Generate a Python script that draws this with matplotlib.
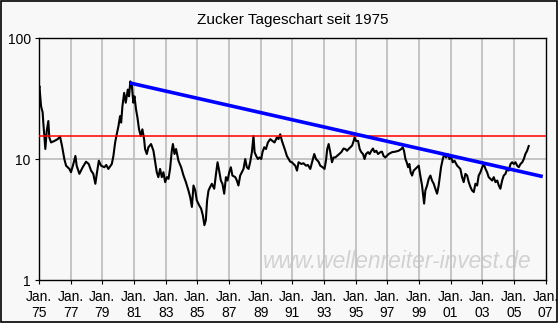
import matplotlib
matplotlib.use("Agg")
import matplotlib.pyplot as plt
from matplotlib.patches import Rectangle

plt.rcParams['font.family'] = ['Liberation Sans', 'DejaVu Sans']

# Sugar daily closes (decimal year, US cents/lb)
years = [
    1975.00, 1975.03, 1975.06, 1975.13, 1975.23, 1975.27, 1975.34, 1975.40, 1975.49, 1975.59,
    1975.65, 1975.76, 1975.97, 1976.18, 1976.33, 1976.45, 1976.60, 1976.71, 1976.92, 1977.02,
    1977.17, 1977.30, 1977.38, 1977.55, 1977.76, 1977.97, 1978.14, 1978.29, 1978.43, 1978.56,
    1978.65, 1978.78, 1978.92, 1979.13, 1979.25, 1979.38, 1979.60, 1979.70, 1979.81, 1979.91,
    1980.02, 1980.12, 1980.19, 1980.27, 1980.38, 1980.48, 1980.61, 1980.69, 1980.77, 1980.86,
    1980.96, 1981.03, 1981.13, 1981.22, 1981.32, 1981.43, 1981.53, 1981.64, 1981.70, 1981.81,
    1981.91, 1982.08, 1982.23, 1982.34, 1982.44, 1982.54, 1982.65, 1982.76, 1982.86, 1982.97,
    1983.08, 1983.18, 1983.28, 1983.39, 1983.46, 1983.56, 1983.66, 1983.81, 1983.98, 1984.13,
    1984.28, 1984.44, 1984.55, 1984.66, 1984.76, 1984.87, 1984.97, 1985.12, 1985.24, 1985.35,
    1985.45, 1985.54, 1985.62, 1985.71, 1985.81, 1985.92, 1986.07, 1986.17, 1986.28, 1986.38,
    1986.49, 1986.59, 1986.70, 1986.81, 1986.91, 1987.02, 1987.12, 1987.22, 1987.40, 1987.50,
    1987.60, 1987.71, 1987.82, 1987.92, 1988.03, 1988.13, 1988.24, 1988.34, 1988.45, 1988.55,
    1988.62, 1988.72, 1988.83, 1988.93, 1989.04, 1989.12, 1989.23, 1989.34, 1989.46, 1989.61,
    1989.75, 1989.88, 1990.03, 1990.13, 1990.24, 1990.35, 1990.45, 1990.56, 1990.66, 1990.77,
    1990.87, 1990.98, 1991.08, 1991.19, 1991.30, 1991.40, 1991.57, 1991.71, 1991.87, 1991.99,
    1992.14, 1992.25, 1992.39, 1992.50, 1992.66, 1992.77, 1992.92, 1993.04, 1993.13, 1993.21,
    1993.30, 1993.40, 1993.51, 1993.61, 1993.72, 1993.83, 1993.97, 1994.10, 1994.24, 1994.35,
    1994.46, 1994.56, 1994.67, 1994.78, 1994.88, 1994.94, 1995.03, 1995.16, 1995.26, 1995.36,
    1995.47, 1995.57, 1995.66, 1995.79, 1995.89, 1996.00, 1996.10, 1996.20, 1996.31, 1996.42,
    1996.57, 1996.67, 1996.77, 1996.88, 1997.09, 1997.31, 1997.51, 1997.72, 1997.89, 1997.98,
    1998.06, 1998.15, 1998.23, 1998.32, 1998.40, 1998.48, 1998.57, 1998.67, 1998.78, 1998.89,
    1998.99, 1999.09, 1999.20, 1999.27, 1999.33, 1999.41, 1999.52, 1999.62, 1999.73, 1999.83,
    1999.94, 2000.04, 2000.15, 2000.25, 2000.32, 2000.40, 2000.51, 2000.61, 2000.72, 2000.82,
    2000.93, 2001.04, 2001.14, 2001.25, 2001.42, 2001.52, 2001.62, 2001.73, 2001.83, 2001.94,
    2002.05, 2002.15, 2002.26, 2002.36, 2002.47, 2002.57, 2002.68, 2002.78, 2002.89, 2003.00,
    2003.10, 2003.21, 2003.31, 2003.41, 2003.52, 2003.63, 2003.73, 2003.84, 2003.95, 2004.05,
    2004.15, 2004.26, 2004.36, 2004.47, 2004.58, 2004.68, 2004.79, 2004.89, 2005.00, 2005.10,
    2005.21, 2005.31, 2005.42, 2005.53, 2005.63, 2005.73, 2005.84, 2005.94,
]
prices = [
    38.7, 40.0, 35.2, 27.3, 24.3, 20.1, 15.5, 12.1, 17.1, 20.6,
    15.1, 13.7, 14.1, 14.6, 15.3, 12.9, 10.0, 8.81, 8.28, 7.78,
    9.10, 10.6, 8.81, 7.54, 8.55, 9.50, 9.10, 8.02, 7.54, 6.24,
    7.54, 9.68, 8.81, 8.55, 8.93, 8.28, 9.10, 10.6, 13.7, 16.0,
    18.7, 22.6, 20.0, 27.3, 35.2, 29.2, 37.5, 33.0, 43.8, 41.2,
    29.2, 33.0, 25.7, 22.0, 17.6, 15.5, 17.6, 14.6, 12.1, 11.0,
    12.5, 13.3, 11.7, 9.40, 7.78, 7.08, 8.28, 7.08, 7.78, 6.44,
    7.08, 6.86, 8.28, 11.7, 13.3, 11.0, 12.1, 9.68, 8.55, 7.30,
    6.44, 5.50, 4.85, 4.02, 6.04, 5.50, 4.55, 4.14, 3.89, 3.43,
    2.84, 3.12, 4.55, 5.50, 5.86, 6.24, 5.68, 7.30, 9.40, 8.02,
    6.64, 6.24, 5.17, 7.08, 6.64, 7.78, 8.55, 7.30, 7.08, 6.64,
    6.04, 7.30, 7.78, 8.28, 10.0, 8.55, 8.28, 9.40, 11.4, 15.5,
    11.4, 10.6, 10.0, 10.3, 10.0, 11.4, 12.5, 12.1, 13.7, 14.6,
    14.1, 13.7, 15.1, 14.6, 16.0, 14.1, 12.9, 11.7, 10.6, 10.0,
    9.50, 9.40, 9.10, 8.81, 8.02, 9.40, 9.10, 9.22, 8.81, 8.93,
    8.28, 9.40, 11.0, 10.0, 9.50, 8.81, 8.55, 8.28, 9.68, 12.1,
    13.3, 11.4, 9.40, 10.3, 10.3, 10.6, 11.0, 11.4, 12.2, 12.1,
    11.7, 12.1, 12.5, 12.9, 14.1, 15.1, 14.1, 14.1, 12.1, 11.4,
    11.0, 10.0, 11.0, 11.4, 11.0, 11.7, 12.2, 11.4, 11.7, 11.0,
    11.4, 11.5, 10.6, 10.3, 11.0, 11.4, 11.5, 11.7, 12.1, 12.5,
    11.7, 10.0, 9.40, 8.55, 9.10, 7.78, 7.30, 8.02, 8.28, 8.55,
    8.81, 7.30, 6.04, 5.00, 4.28, 5.50, 6.04, 6.86, 7.30, 6.64,
    6.24, 5.68, 5.17, 6.04, 7.08, 8.55, 10.0, 11.0, 10.3, 11.0,
    10.0, 10.3, 9.40, 9.68, 8.81, 8.55, 8.28, 7.08, 6.44, 7.54,
    7.30, 6.44, 5.86, 5.50, 5.33, 6.24, 6.04, 7.30, 7.78, 8.55,
    9.10, 8.28, 7.78, 7.08, 6.86, 6.64, 7.08, 6.44, 6.64, 6.04,
    5.68, 6.64, 7.30, 7.54, 8.28, 8.02, 9.10, 9.40, 9.10, 9.40,
    8.81, 8.55, 9.10, 9.40, 10.0, 11.0, 11.7, 12.8,
]

# Horizontal resistance level
resistance = 15.6

# Downward trend line from the 1980 high
trend_years = [1980.75, 2006.83]
trend_values = [42.5, 7.16]

tick_years = list(range(1975, 2008, 2))
tick_labels = ["Jan.\n%02d" % (y % 100) for y in tick_years]

bg = "#F8F8F8"
fig = plt.figure(figsize=(5.58, 3.23), dpi=100, facecolor=bg)
ax = fig.add_axes([0.0699, 0.1331, 0.9077, 0.7492], facecolor=bg)

ax.set_yscale("log")
ax.set_ylim(1, 100)
ax.set_xlim(1975, 2007)

for y in tick_years[1:-1]:
    ax.axvline(y, color="#C0C0C0", lw=1.3, zorder=1)
ax.axhline(10, color="#C0C0C0", lw=1.3, zorder=1)

ax.plot(years, prices, color="black", lw=1.5, zorder=2)
ax.axhline(resistance, color="#FF0000", lw=1.1, zorder=3)
ax.plot(trend_years, trend_values, color="#0000FF", lw=2.6, zorder=4,
        solid_capstyle="butt")

ax.set_xticks(tick_years)
ax.set_xticklabels(tick_labels, fontsize=10, linespacing=1.25)
ax.set_yticks([1, 10, 100])
ax.set_yticklabels(["1", "10", "100"], fontsize=10)
ax.yaxis.set_minor_locator(matplotlib.ticker.NullLocator())
ax.tick_params(axis="both", direction="out", length=3, width=0.8, color="black", pad=3)
ax.tick_params(axis="x", pad=4)

for s in ax.spines.values():
    s.set_color("black")
    s.set_linewidth(1.0)

ax.set_title("Zucker Tageschart seit 1975", fontsize=11, pad=10)

ax.text(0.708, 0.075, "www.wellenreiter-invest.de", transform=ax.transAxes,
        fontsize=16.4, style="italic", color="#D2D2D2", ha="center", va="center",
        zorder=0.5)

fig.patches.append(Rectangle((0.001, 0.002), 0.997, 0.995, transform=fig.transFigure,
                             fill=False, edgecolor="black", lw=1.2))

fig.savefig("out.png", dpi=100, facecolor=bg)
